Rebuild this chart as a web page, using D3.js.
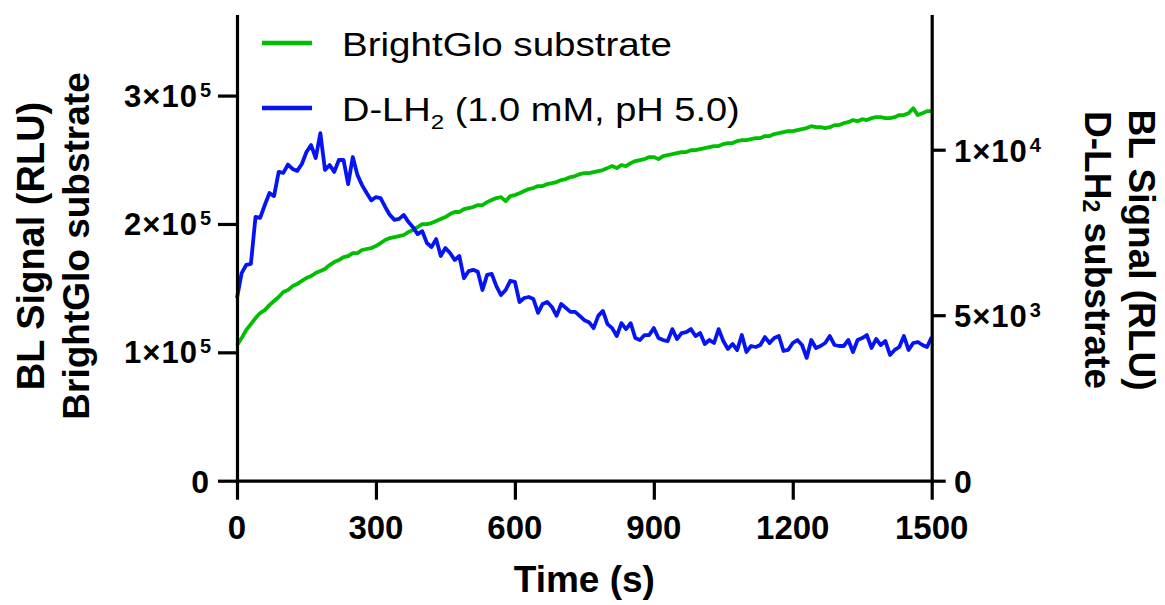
<!DOCTYPE html>
<html><head><meta charset="utf-8">
<script src="https://cdn.jsdelivr.net/npm/d3@7"></script>
<style>body{margin:0;background:#fff} svg{display:block} text{font-family:"Liberation Sans",Arial,Helvetica,sans-serif}</style>
</head><body><svg id="c" width="1165" height="605"></svg>
<script>
// ---- data ----
const timeSec = [0,10,20,30,40,50,60,70,80,90,100,110,120,130,140,150,160,170,180,190,
200,210,220,230,240,250,260,270,280,290,300,310,320,330,340,350,360,370,380,390,
400,410,420,430,440,450,460,470,480,490,500,510,520,530,540,550,560,570,580,590,
600,610,620,630,640,650,660,670,680,690,700,710,720,730,740,750,760,770,780,790,
800,810,820,830,840,850,860,870,880,890,900,910,920,930,940,950,960,970,980,990,
1000,1010,1020,1030,1040,1050,1060,1070,1080,1090,1100,1110,1120,1130,1140,1150,1160,1170,1180,1190,
1200,1210,1220,1230,1240,1250,1260,1270,1280,1290,1300,1310,1320,1330,1340,1350,1360,1370,1380,1390,
1400,1410,1420,1430,1440,1450,1460,1470,1480,1490,1500];
// BrightGlo substrate, RLU in units of 1e5 (left axis)
const brightGlo = [1.055,1.111,1.174,1.220,1.267,1.306,1.329,1.368,1.400,1.431,
1.470,1.485,1.516,1.532,1.556,1.579,1.594,1.618,1.633,1.649,
1.680,1.703,1.719,1.742,1.750,1.773,1.773,1.797,1.805,1.812,
1.828,1.851,1.875,1.890,1.898,1.906,1.914,1.937,1.953,1.976,
1.999,1.999,2.007,2.023,2.038,2.054,2.077,2.093,2.093,2.116,
2.124,2.132,2.147,2.147,2.170,2.186,2.202,2.209,2.178,2.217,
2.225,2.240,2.256,2.272,2.280,2.295,2.295,2.311,2.318,2.326,
2.342,2.350,2.365,2.373,2.388,2.396,2.396,2.404,2.412,2.420,
2.435,2.451,2.435,2.459,2.451,2.474,2.490,2.498,2.505,2.521,
2.521,2.505,2.529,2.537,2.544,2.552,2.560,2.560,2.575,2.575,
2.583,2.591,2.599,2.607,2.607,2.622,2.630,2.630,2.646,2.653,
2.653,2.661,2.669,2.669,2.685,2.685,2.700,2.707,2.715,2.723,
2.723,2.731,2.739,2.747,2.762,2.754,2.754,2.747,2.754,2.770,
2.770,2.785,2.793,2.809,2.801,2.816,2.809,2.824,2.832,2.832,
2.824,2.824,2.832,2.848,2.848,2.863,2.902,2.848,2.863,2.879,2.879];
// D-LH2 (1.0 mM, pH 5.0), RLU in units of 1e3 (right axis)
const dLH2 = [5.52,6.27,6.52,6.55,7.97,7.94,8.33,8.69,8.60,9.33,
9.30,9.55,9.42,9.36,9.57,9.93,10.14,9.75,10.50,9.39,
9.54,9.33,9.69,9.69,8.96,9.78,9.24,8.93,8.69,8.47,
8.57,8.54,8.27,8.03,7.88,7.91,8.03,7.82,7.66,7.45,
7.54,7.18,7.06,7.30,6.79,7.03,6.88,6.67,6.79,6.12,
6.33,6.37,6.31,5.76,6.22,6.25,5.88,5.61,5.76,6.04,
6.01,5.40,5.52,5.55,5.49,5.07,5.34,5.40,5.25,4.98,
5.34,5.22,5.10,5.10,4.98,4.85,4.79,4.61,4.98,5.13,
4.73,4.61,4.37,4.76,4.58,4.76,4.31,4.25,4.40,4.40,
4.61,4.31,4.25,4.22,4.58,4.28,4.46,4.49,4.58,4.37,
4.46,4.13,4.25,4.16,4.58,4.22,3.98,4.13,3.95,4.40,
3.89,4.07,4.04,4.10,4.34,4.16,4.31,4.37,3.92,3.95,
4.16,4.25,4.10,3.71,4.25,4.01,4.07,4.16,4.37,4.10,
4.07,4.07,4.25,3.89,4.25,4.31,4.40,4.01,4.28,4.10,
4.22,3.80,3.95,4.04,4.37,3.95,4.16,4.19,4.10,4.04,4.34];

const xTicks = [0,300,600,900,1200,1500];
const xTickLabels = ["0","300","600","900","1200","1500"];
const leftTicks = [0,100000,200000,300000];
const leftTickMain = ["0","1×10","2×10","3×10"];
const leftTickExp = ["","5","5","5"];
const rightTicks = [0,5000,10000];
const rightTickMain = ["0","5×10","1×10"];
const rightTickExp = ["","3","4"];
const seriesNames = ["BrightGlo substrate","D-LH2 (1.0 mM, pH 5.0)"];
const seriesColors = ["#00bf00","#0514f2"];

// ---- layout ----
const svg = d3.select("#c");
const X0 = 237, X1 = 931.7, Y0 = 480.7, YT = 16;
const x = d3.scaleLinear().domain([0,1500]).range([X0,X1]);
const yL = d3.scaleLinear().domain([0,362000]).range([Y0,YT]);
const yR = d3.scaleLinear().domain([0,14040]).range([Y0,YT]);

// lines
const gData = timeSec.map((t,i)=>({t, v: brightGlo[i]*1e5}));
const bData = timeSec.map((t,i)=>({t, v: dLH2[i]*1e3}));
svg.append("path").datum(gData)
  .attr("d", d3.line().x(d=>x(d.t)).y(d=>yL(d.v)))
  .attr("fill","none").attr("stroke",seriesColors[0]).attr("stroke-width",3.8).attr("stroke-linejoin","round");
svg.append("path").datum(bData)
  .attr("d", d3.line().x(d=>x(d.t)).y(d=>yR(d.v)))
  .attr("fill","none").attr("stroke",seriesColors[1]).attr("stroke-width",3.8).attr("stroke-linejoin","round");

// axes
function styleAxis(g){
  g.selectAll("path.domain").attr("stroke","#000").attr("stroke-width",3.2).attr("stroke-linecap","square");
  g.selectAll(".tick line").attr("stroke","#000").attr("stroke-width",3.2);
  g.selectAll(".tick text").remove();
}
svg.append("g").attr("transform",`translate(0,${Y0})`)
  .call(d3.axisBottom(x).tickValues(xTicks).tickSize(19).tickSizeOuter(0).tickFormat(""))
  .call(styleAxis);
svg.append("g").attr("transform",`translate(${X0},0)`)
  .call(d3.axisLeft(yL).tickValues(leftTicks).tickSize(19).tickSizeOuter(0).tickFormat(""))
  .call(styleAxis);
svg.append("g").attr("transform",`translate(${X1},0)`)
  .call(d3.axisRight(yR).tickValues(rightTicks).tickSize(14).tickSizeOuter(0).tickFormat(""))
  .call(styleAxis);

// x tick labels
svg.append("g").selectAll("text").data(xTicks).join("text")
  .attr("x",d=>x(d)).attr("y",539).attr("text-anchor","middle")
  .attr("font-size",33).attr("font-weight","bold").attr("fill","#000")
  .text((d,i)=>xTickLabels[i]);

// left tick labels
leftTicks.forEach((v,i)=>{
  const t = svg.append("text").attr("x",211).attr("y",yL(v)+11).attr("text-anchor","end")
    .attr("font-weight","bold").attr("font-size",31).attr("fill","#000");
  if(leftTickExp[i]===""){ t.attr("x",209).attr("y",yL(v)+12).attr("font-size",32).text(leftTickMain[i]); return; }
  t.append("tspan").attr("letter-spacing",1).text(leftTickMain[i]);
  t.append("tspan").attr("dx",2).attr("dy",-10).attr("font-size",20).text(leftTickExp[i]);
});
// right tick labels
rightTicks.forEach((v,i)=>{
  const t = svg.append("text").attr("x",954).attr("y",yR(v)+12).attr("text-anchor","start")
    .attr("font-weight","bold").attr("font-size",31).attr("fill","#000");
  if(rightTickExp[i]===""){ t.attr("y",yR(v)+12).attr("font-size",32).text(rightTickMain[i]); return; }
  t.append("tspan").attr("letter-spacing",1).text(rightTickMain[i]);
  t.append("tspan").attr("dx",2).attr("dy",-10).attr("font-size",20).text(rightTickExp[i]);
});

// axis titles
svg.append("text").attr("x",(X0+X1)/2).attr("y",592).attr("text-anchor","middle")
  .attr("font-size",37).attr("font-weight","bold").text("Time (s)");
const yMidL = 246, yMidR = 250;
svg.append("text").attr("transform",`translate(44,${yMidL}) rotate(-90)`).attr("text-anchor","middle")
  .attr("font-size",38).attr("font-weight","bold").text("BL Signal (RLU)");
svg.append("text").attr("transform",`translate(89,${yMidL}) rotate(-90)`).attr("text-anchor","middle")
  .attr("font-size",37).attr("font-weight","bold").text("BrightGlo substrate");
svg.append("text").attr("transform",`translate(1129,${yMidR}) rotate(90)`).attr("text-anchor","middle")
  .attr("font-size",37).attr("font-weight","bold").text("BL Signal (RLU)");
const rt2 = svg.append("text").attr("transform",`translate(1085,${yMidR}) rotate(90)`).attr("text-anchor","middle")
  .attr("font-size",37).attr("font-weight","bold");
rt2.append("tspan").text("D-LH");
rt2.append("tspan").attr("font-size",23).attr("dy",2).text("2");
rt2.append("tspan").attr("dy",-2).text(" substrate");

// legend
const legY = [43,108];
legY.forEach((ly,i)=>{
  svg.append("line").attr("x1",262).attr("x2",312).attr("y1",ly).attr("y2",ly)
    .attr("stroke",seriesColors[i]).attr("stroke-width",4.5);
});
const l1 = svg.append("text").attr("x",342).attr("y",56).attr("font-size",33).attr("fill","#000")
  .text(seriesNames[0]);
const l2 = svg.append("text").attr("x",342).attr("y",121).attr("font-size",33).attr("fill","#000");
l2.append("tspan").text("D-LH");
l2.append("tspan").attr("font-size",21).attr("dy",8).text("2");
l2.append("tspan").attr("dy",-8).text(" (1.0 mM, pH 5.0)");
// fit legend widths to reference extents
function fitW(sel, target){
  const w = sel.node().getBBox().width;
  const k = target / w;
  sel.attr("transform",`translate(342,0) scale(${k},1) translate(-342,0)`);
}
fitW(l1, 330);
fitW(l2, 398);
</script></body></html>
